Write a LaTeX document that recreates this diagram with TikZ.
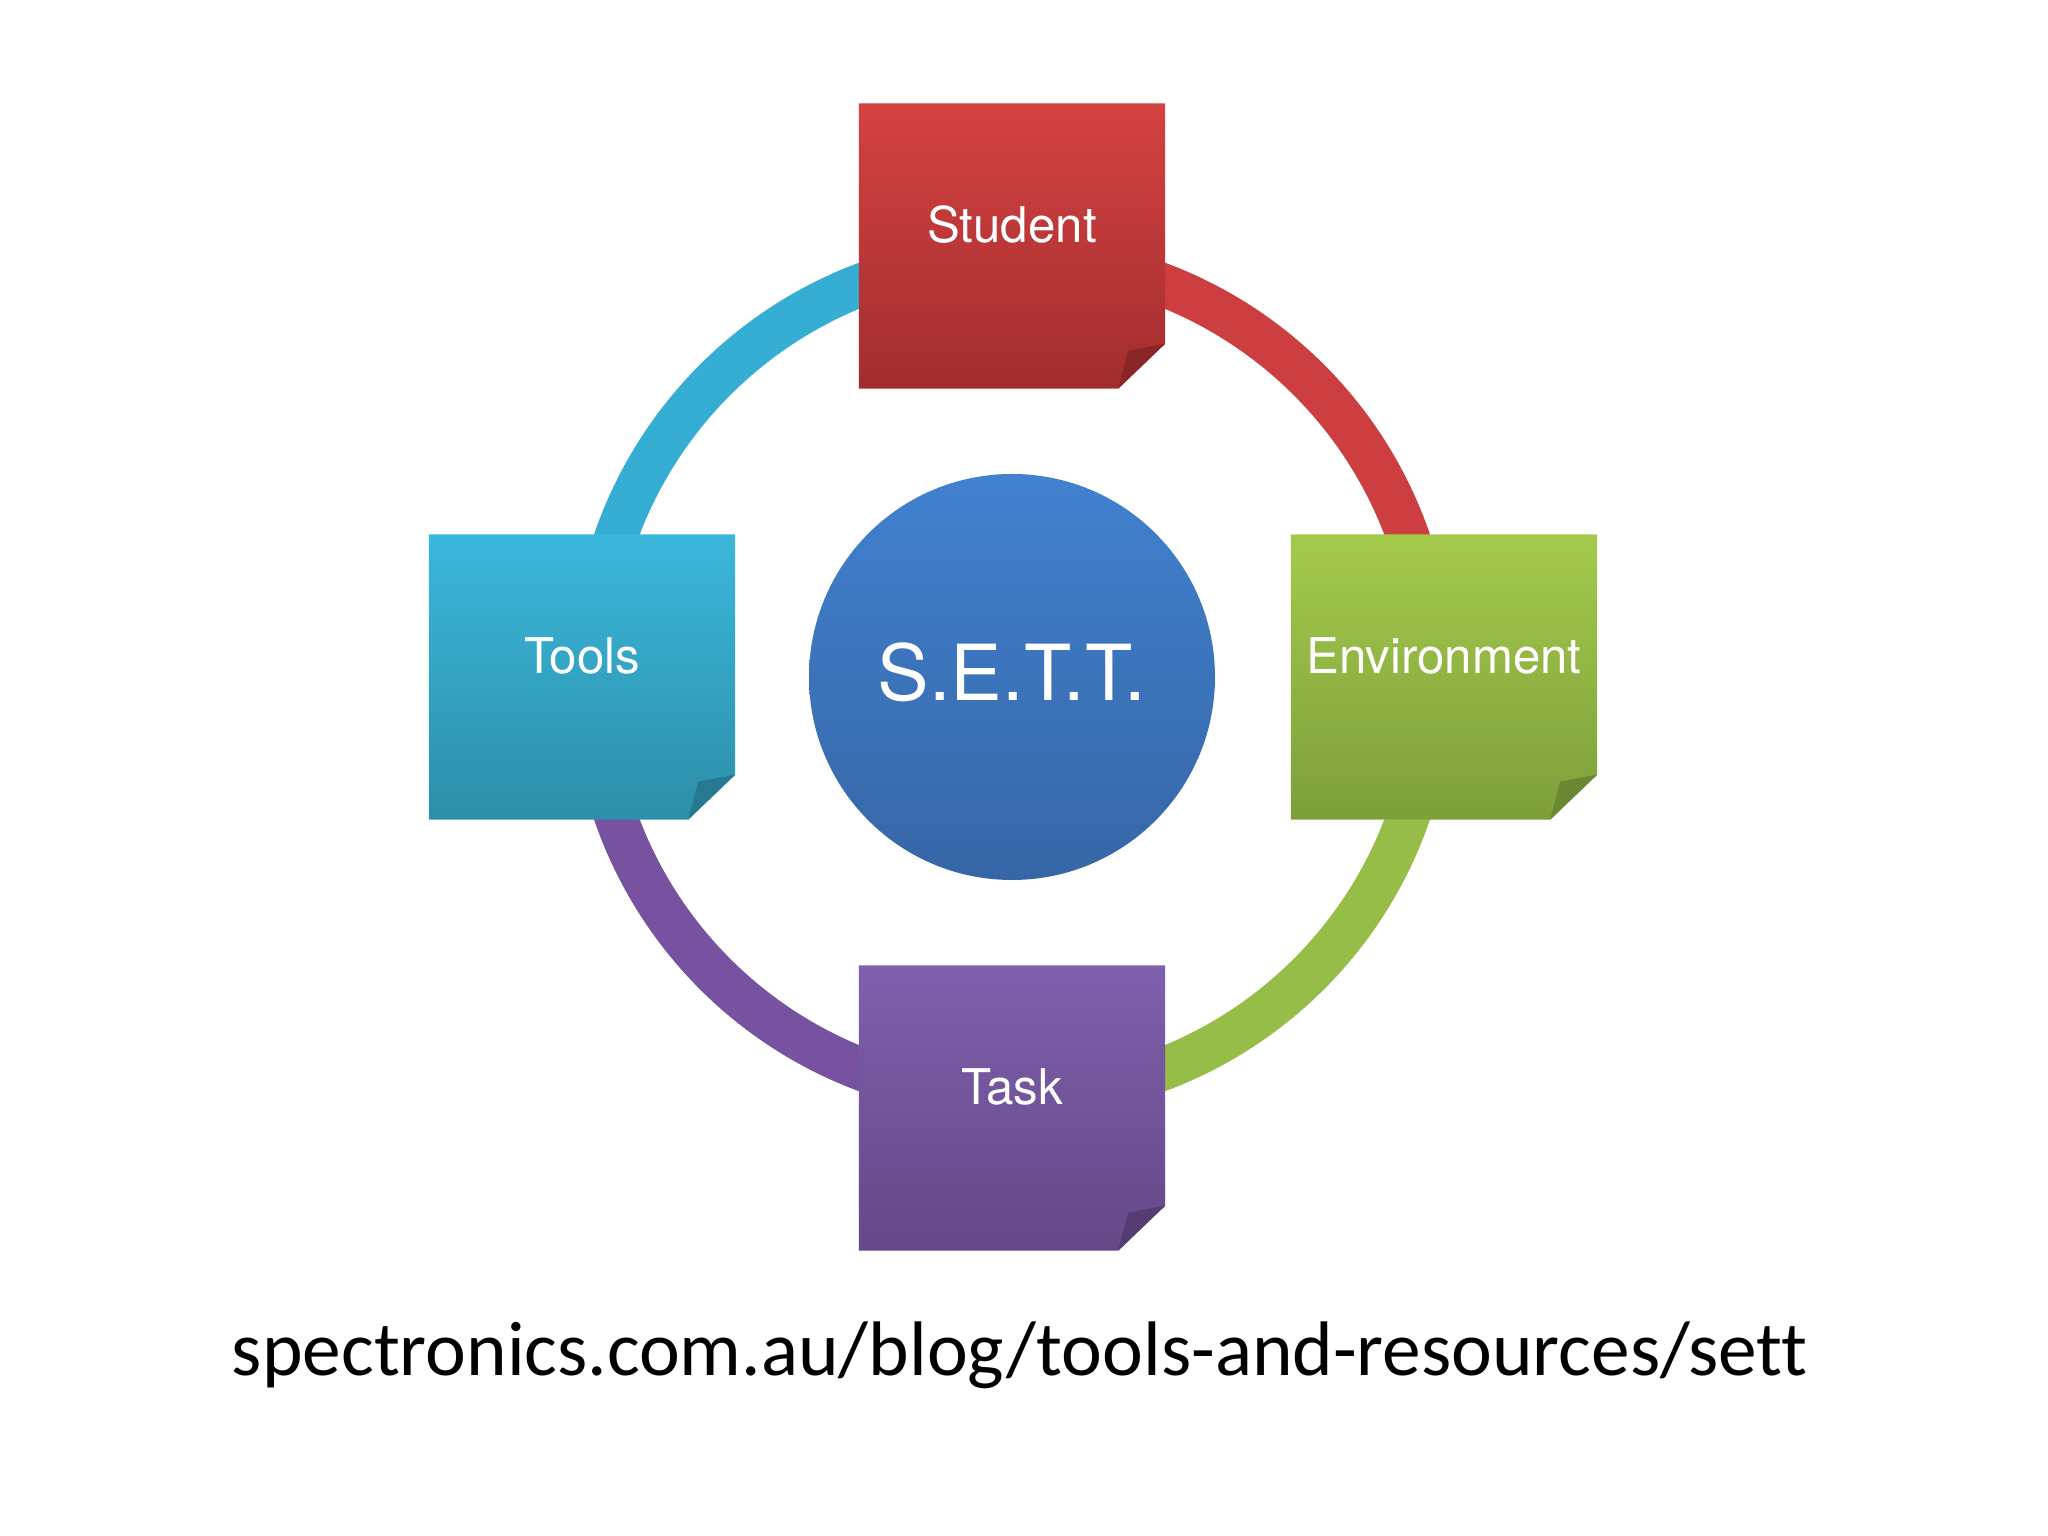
\documentclass[tikz,border=0pt]{standalone}
\usepackage{fontspec}
\setmainfont{TeX Gyre Heros}
\newfontfamily\urlfont[Ligatures=CommonOff]{Carlito}

\definecolor{redtop}{HTML}{D54242}
\definecolor{redbot}{HTML}{A22D2E}
\definecolor{redring}{HTML}{CC3E3F}
\definecolor{cyantop}{HTML}{3BB7DC}
\definecolor{cyanbot}{HTML}{2D8FA9}
\definecolor{cyanring}{HTML}{36ADD3}
\definecolor{greentop}{HTML}{A4CA4C}
\definecolor{greenbot}{HTML}{7D9F3A}
\definecolor{greenring}{HTML}{95BD47}
\definecolor{purpletop}{HTML}{7F60AD}
\definecolor{purplebot}{HTML}{644887}
\definecolor{purplering}{HTML}{7652A0}
\definecolor{bluetop}{HTML}{4181CF}
\definecolor{bluebot}{HTML}{3666A6}

\tikzset{
  ring/.style={line width=0.43cm},
  notebox/.style={minimum width=3.05cm, minimum height=2.84cm, inner sep=0pt},
  notetext/.style={text=white, anchor=base, font=\fontsize{14}{16}\selectfont},
}

% sticky note with folded corner: name, top colour, bottom colour
\newcommand{\sticky}[3]{%
  \shade[top color=#2, bottom color=#3] (#1.north west) -- (#1.north east)
    -- ([yshift=0.45cm]#1.south east) -- ([xshift=-0.47cm]#1.south east)
    -- (#1.south west) -- cycle;
  \fill[#3!85!black] ([yshift=0.45cm]#1.south east) -- ([xshift=-0.47cm]#1.south east)
    -- ([xshift=-0.37cm,yshift=0.38cm]#1.south east) -- cycle;
}

\begin{document}
\begin{tikzpicture}
\useasboundingbox[fill=white] (0,0) rectangle (20.48,15.36);
\coordinate (c) at (10.12,8.59);

% ring
\draw[ring, redring] ([shift={(90:4.2)}]c) arc (90:0:4.2);
\draw[ring, greenring] ([shift={(0:4.2)}]c) arc (0:-90:4.2);
\draw[ring, purplering] ([shift={(-90:4.2)}]c) arc (-90:-180:4.2);
\draw[ring, cyanring] ([shift={(180:4.2)}]c) arc (180:90:4.2);

% centre
\node[circle, minimum size=4.06cm, inner sep=0pt, top color=bluetop, bottom color=bluebot] (sett) at (c) {};
\node[text=white, anchor=base, font=\fontsize{22}{26}\selectfont] (settlabel) at ([yshift=-0.24cm]sett.center) {S.E.T.T.};

% notes
\node[notebox] (student) at (10.12,12.90) {};
\node[notebox] (tools) at (5.82,8.59) {};
\node[notebox] (environment) at (14.44,8.59) {};
\node[notebox] (task) at (10.12,4.28) {};
\sticky{student}{redtop}{redbot}
\sticky{tools}{cyantop}{cyanbot}
\sticky{environment}{greentop}{greenbot}
\sticky{task}{purpletop}{purplebot}
\node[notetext] (studentlabel) at ([yshift=0.03cm]student.center) {Student};
\node[notetext] (toolslabel) at ([yshift=0.03cm]tools.center) {Tools};
\node[notetext] (environmentlabel) at ([yshift=0.03cm]environment.center) {Environment};
\node[notetext] (tasklabel) at ([yshift=0.03cm]task.center) {Task};

\node[anchor=base, font=\urlfont\fontsize{22}{26}\selectfont] (url) at (10.20,1.60) {spectronics.com.au/blog/tools-and-resources/sett};
\end{tikzpicture}
\end{document}
